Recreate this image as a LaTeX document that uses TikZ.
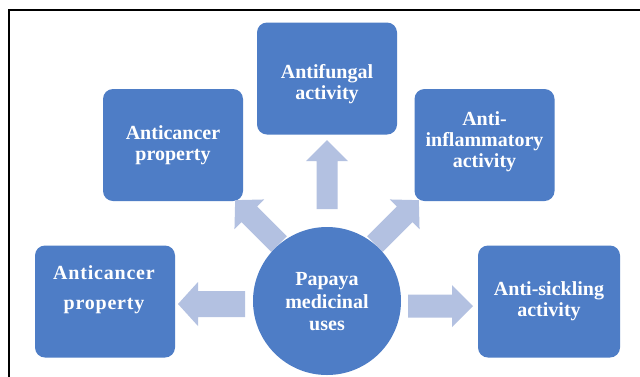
\documentclass[tikz,border=0pt]{standalone}
\usepackage{fontspec}
\setmainfont{Liberation Serif}
\definecolor{boxblue}{HTML}{4E7DC6}
\definecolor{arrowcol}{HTML}{B3C1E1}
\begin{document}
\begin{tikzpicture}[x=1pt,y=-1pt,
  box/.style={fill=boxblue, rounded corners=10pt, draw=none, minimum width=140pt, minimum height=112pt, inner sep=0pt},
  lbl/.style={text=white, font=\fontsize{20}{21}\selectfont\bfseries, align=center, inner sep=0pt},
  pics/blockarrow/.style args={#1/#2/#3/#4}{code={
    \fill[arrowcol] (0,-#2) -- (#1-#4,-#2) -- (#1-#4,-#3) -- (#1,0) -- (#1-#4,#3) -- (#1-#4,#2) -- (0,#2) -- cycle;
  }}]
\useasboundingbox (0,0) rectangle (640,376);
\fill[white] (0,0) rectangle (640,376);
\draw[line width=2.5pt] (9,377) -- (9,10) -- (641,10);

% boxes
\node[box] (fung) at (327,78.5) {};
\node[box] (canc1) at (173,145) {};
\node[box] (infl) at (484.5,145) {};
\node[box] (canc2) at (105,301.5) {};
\node[box, minimum width=142pt] (sick) at (549,301.5) {};

% block arrows
\pic[rotate=90] at (327,209) {blockarrow=69/10.5/21/21};
\pic[rotate=180] at (245,304) {blockarrow=67/13/22/20};
\pic at (408,306) {blockarrow=65/11.5/21/21};
\pic[rotate=135] at (279,244) {blockarrow=62/11/21/20};
\pic[rotate=45] at (375,244) {blockarrow=62/11/21/20};

% centre
\node[circle, fill=boxblue, minimum size=148pt, inner sep=0pt] (papaya) at (327,301) {};

% labels
\node[lbl] (tfung) at (327,84) {Antifungal\\activity};
\node[lbl] (tcanc1) at (173,145) {Anticancer\\property};
\node[lbl] (tinfl) at (484.5,142) {Anti-\\inflammatory\\activity};
\node[lbl, font=\fontsize{20}{30}\selectfont\bfseries\addfontfeature{LetterSpace=4}] (tcanc2) at (104,290) {Anticancer\\property};
\node[lbl] (tsick) at (549,301) {Anti-sickling\\activity};
\node[lbl, font=\fontsize{20}{22.5}\selectfont\bfseries] (tpap) at (327,302) {Papaya\\medicinal\\uses};
\end{tikzpicture}
\end{document}
